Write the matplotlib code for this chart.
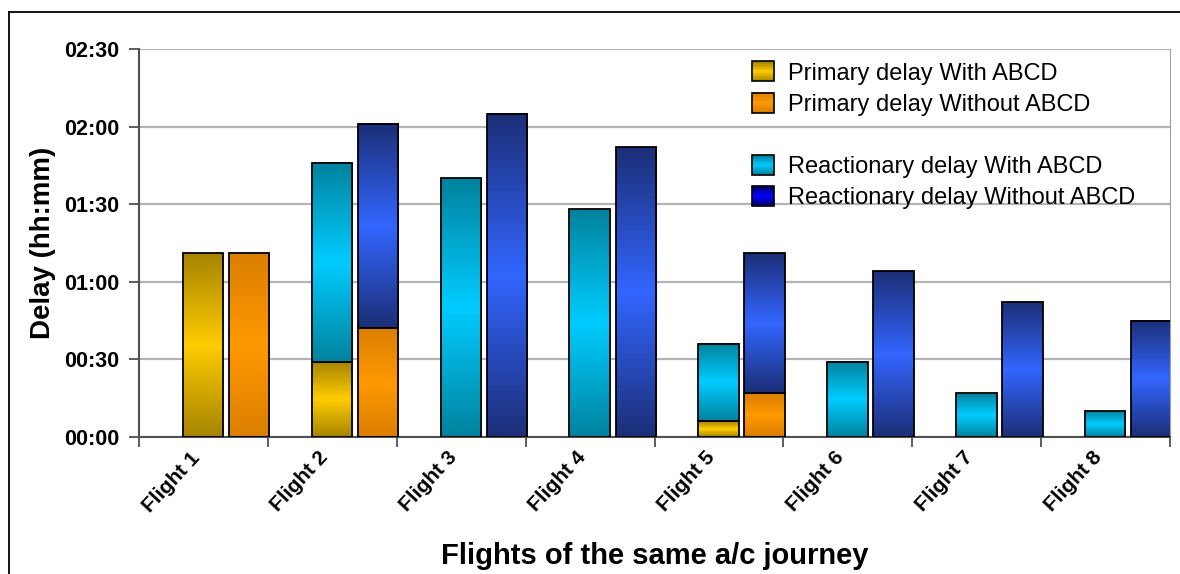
import numpy as np
import matplotlib
matplotlib.use("Agg")
import matplotlib.pyplot as plt
from matplotlib.colors import to_rgb
from matplotlib.patches import Rectangle, Patch
from matplotlib.legend_handler import HandlerBase
from matplotlib.lines import Line2D
from matplotlib.ticker import FuncFormatter, FixedLocator
from matplotlib.transforms import ScaledTranslation

plt.rcParams["font.family"] = ["Liberation Sans", "DejaVu Sans"]

# delays in minutes
flights = ["Flight 1", "Flight 2", "Flight 3", "Flight 4",
           "Flight 5", "Flight 6", "Flight 7", "Flight 8"]
primary_with = [71, 29, 0, 0, 6, 0, 0, 0]
reactionary_with = [0, 77, 100, 88, 30, 29, 17, 10]
primary_without = [71, 42, 0, 0, 17, 0, 0, 0]
reactionary_without = [0, 79, 125, 112, 54, 64, 52, 45]

labels = ["Primary delay With ABCD", "Primary delay Without ABCD",
          "Reactionary delay With ABCD", "Reactionary delay Without ABCD"]
# (edge colour, centre colour) for the vertical gradient fills
colors = {
    "prim_with": ("#A68500", "#FFCC00"),
    "prim_without": ("#DB7F00", "#FF9900"),
    "reac_with": ("#00839F", "#00CCFF"),
    "reac_without": ("#1C2F78", "#3366FF"),
}
legend_colors = [colors["prim_with"], colors["prim_without"],
                 colors["reac_with"], ("#000070", "#0000FF")]


def gradient(edge, mid, n=64):
    e = np.array(to_rgb(edge))
    m = np.array(to_rgb(mid))
    t = np.abs(np.linspace(-1, 1, n))[:, None]
    return (m * (1 - t) + e * t)[:, None, :]


def gradient_bars(ax, x, heights, bottom, width, edge, mid):
    x = np.asarray(x, float)
    heights = np.asarray(heights, float)
    bottom = np.asarray(bottom, float)
    keep = heights > 0
    bars = ax.bar(x[keep], heights[keep], width, bottom=bottom[keep],
                  facecolor="none", edgecolor="black", linewidth=1.3, zorder=3)
    img = gradient(edge, mid)
    for p in bars:
        ax.imshow(img, extent=(p.get_x(), p.get_x() + p.get_width(),
                               p.get_y(), p.get_y() + p.get_height()),
                  origin="lower", aspect="auto", interpolation="bilinear", zorder=2)
    return bars


class GradientHandler(HandlerBase):
    def __init__(self, edge, mid):
        super().__init__()
        self.edge, self.mid = edge, mid

    def create_artists(self, legend, orig_handle, xdescent, ydescent,
                       width, height, fontsize, trans):
        n = 14
        img = gradient(self.edge, self.mid, n)[:, 0, :]
        arts = []
        for k in range(n):
            y = -ydescent + height * k / n
            arts.append(Rectangle((-xdescent, y), width, height / n + 0.3,
                                  facecolor=img[k], edgecolor="none", transform=trans))
        arts.append(Rectangle((-xdescent, -ydescent), width, height, fill=False,
                              edgecolor="black", lw=1.2, transform=trans))
        return arts


fig = plt.figure(figsize=(11.8, 5.74), dpi=100)
ax = fig.add_axes([139 / 1180, 1 - 437 / 574, (1170 - 139) / 1180, (437 - 49) / 574])

x = np.arange(len(flights))
w = 0.315
left = x + 0.497
right = x + 0.855

gradient_bars(ax, left, primary_with, np.zeros(8), w, *colors["prim_with"])
gradient_bars(ax, left, reactionary_with, primary_with, w, *colors["reac_with"])
gradient_bars(ax, right, primary_without, np.zeros(8), w, *colors["prim_without"])
gradient_bars(ax, right, reactionary_without, primary_without, w, *colors["reac_without"])

ax.set_xlim(0, len(flights))
ax.set_ylim(0, 150)
ax.set_axisbelow(True)

ax.yaxis.set_major_locator(FixedLocator(np.arange(0, 151, 30)))
ax.yaxis.set_major_formatter(FuncFormatter(lambda v, p: f"{int(v) // 60:02d}:{int(v) % 60:02d}"))
ax.grid(axis="y", color="#B4B4B4", linewidth=1.6, zorder=0)
ax.tick_params(axis="y", length=7, width=1.3, color="#505050", pad=7,
               labelsize=15.5)
for t in ax.get_yticklabels():
    t.set_fontweight("bold")

ax.set_xticks(np.arange(0, len(flights) + 1))
ax.set_xticklabels([])
ax.set_xticks(x + 0.5, minor=True)
ax.set_xticklabels(flights, minor=True, rotation=47, ha="right", va="top",
                   rotation_mode="anchor", fontsize=15, fontweight="bold")
ax.tick_params(axis="x", which="major", length=7, width=1.3, color="#505050")
ax.tick_params(axis="x", which="minor", length=0, pad=8)
for t in ax.get_xticklabels(minor=True):
    t.set_transform(t.get_transform() + ScaledTranslation(-14 / 100, 0, fig.dpi_scale_trans))

for s in ("left", "bottom"):
    ax.spines[s].set_color("#505050")
    ax.spines[s].set_linewidth(1.5)
ax.spines["right"].set_color("#A0A0A0")
ax.spines["top"].set_visible(False)

ax.set_ylabel("Delay (hh:mm)", fontsize=20, fontweight="bold", labelpad=6)
ax.set_xlabel("Flights of the same a/c journey", fontsize=21, fontweight="bold", labelpad=19)

handles = [Patch(label=l) for l in labels]
blank = Patch(facecolor="none", edgecolor="none")
hmap = {h: GradientHandler(*c) for h, c in zip(handles, legend_colors)}
ax.legend(handles[:2] + [blank] + handles[2:], labels[:2] + [" "] + labels[2:],
          handler_map=hmap, loc="upper left", bbox_to_anchor=(0.5946, 0.968),
          frameon=False, fontsize=17, handlelength=0.93, handleheight=0.93,
          handletextpad=0.6, labelspacing=0.34, borderaxespad=0, borderpad=0)

# outer chart frame (cropped on the right and bottom)
fig.add_artist(Line2D([9 / 1180, 9 / 1180], [0, 1 - 12 / 574], transform=fig.transFigure,
                      color="black", lw=1.3))
fig.add_artist(Line2D([9 / 1180, 1], [1 - 12 / 574, 1 - 12 / 574], transform=fig.transFigure,
                      color="black", lw=1.3))

fig.savefig("out.png", dpi=100)
